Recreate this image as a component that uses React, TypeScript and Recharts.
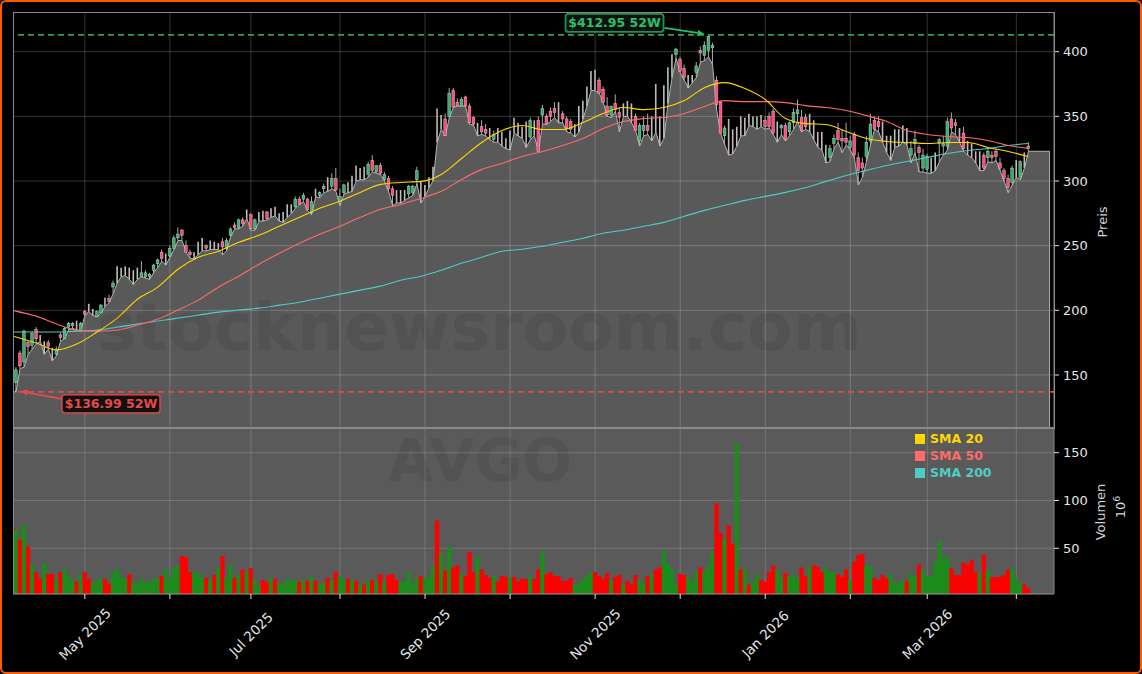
import React from "react";
import { ComposedChart, Area, Bar, Line, XAxis, YAxis, CartesianGrid, ReferenceLine, ReferenceDot } from "recharts";

type OHLC = [number, number, number, number];

// Daily candles by month: [open, high, low, close]
const candlesApr25: OHLC[] = [[144,156,137,154],[167,169,155,157],[160,185,156,184],[175,177,166,172],[173,184,170,182],[185,187,174,178],[179,181,176,178],[170,176,166,175],[175,177,170,172],[170,171,161,165],[166,172,165,170],[181,183,176,179],[178,187,178,186],[187,191,185,190],[188,191,186,190],[191,192,185,188],[184,191,184,190]];
const candlesMay25: OHLC[] = [[199,200,196,197],[203,205,199,201],[197,201,196,199],[195,200,195,199],[198,205,198,204],[208,210,203,206],[209,212,206,207],[218,223,213,221],[225,234,221,228],[228,233,226,230],[228,234,227,231],[231,233,224,226],[224,231,220,227],[224,233,224,230],[226,238,226,229],[226,231,225,229],[226,229,224,228],[231,236,229,235],[236,240,233,239],[245,247,238,240],[241,244,235,243]];
const candlesJun25: OHLC[] = [[242,250,241,248],[248,258,247,256],[256,264,254,259],[262,263,254,258],[250,254,245,245],[245,247,240,243],[242,245,240,244],[245,253,243,247],[248,256,246,249],[250,251,246,248],[248,254,247,250],[252,253,247,249],[248,252,247,250],[253,256,243,249],[248,256,246,254],[258,264,257,263],[266,268,263,264],[264,271,263,270],[270,272,265,267],[273,278,271,275],[274,275,262,263]];
const candlesJul25: OHLC[] = [[263,271,262,270],[270,276,269,275],[274,277,269,272],[276,277,270,271],[272,279,272,275],[277,280,273,275],[270,275,269,272],[271,276,268,272],[274,282,272,278],[277,282,275,279],[280,288,279,286],[286,288,282,282],[286,291,284,289],[286,287,277,278],[276,288,274,284],[291,294,288,289],[289,292,287,291],[294,298,291,296],[300,303,292,295],[296,306,294,302],[302,310,292,293],[284,294,281,288]];
const candlesAug25: OHLC[] = [[291,298,290,297],[295,299,291,292],[293,304,292,296],[308,312,300,303],[303,310,301,306],[310,311,301,305],[305,315,303,313],[316,320,307,308],[307,312,306,312],[312,314,305,306],[301,307,300,305],[302,304,292,294],[294,296,281,289],[291,293,283,288],[287,293,283,292],[288,293,285,291],[290,297,287,296],[291,297,289,296],[301,311,298,308],[296,300,283,295]];
const candlesSep25: OHLC[] = [[288,297,288,294],[296,303,295,300],[302,311,300,305],[354,356,330,334],[341,351,340,345],[348,352,335,335],[350,372,349,368],[370,372,357,357],[361,364,358,358],[358,365,358,363],[365,366,358,358],[358,360,344,345],[349,350,343,344],[338,345,335,340],[342,347,336,338],[340,344,335,337],[338,341,332,335],[332,339,330,336],[336,341,330,332],[337,338,327,330],[331,333,325,326]];
const candlesOct25: OHLC[] = [[326,339,324,332],[348,349,337,338],[342,345,335,336],[340,342,333,334],[344,346,326,330],[334,349,332,347],[345,347,335,342],[347,350,323,323],[351,359,344,356],[350,352,344,344],[354,357,346,350],[356,361,349,353],[353,361,345,350],[352,354,345,348],[348,350,338,341],[346,348,337,340],[336,344,334,340],[340,358,338,350],[350,362,348,358],[361,373,358,366],[372,385,370,378]];
const candlesNov25: OHLC[] = [[382,386,370,372],[378,380,368,368],[371,373,361,361],[358,365,350,351],[351,358,349,358],[360,367,354,355],[353,357,338,349],[352,360,350,355],[358,362,350,352],[358,360,345,350],[350,352,339,339],[331,345,327,343],[339,350,335,343],[343,352,336,339],[338,350,331,342],[356,375,338,343],[345,350,327,332],[348,374,333,370],[368,388,360,384],[385,398,380,393],[398,403,395,402]];
const candlesDec25: OHLC[] = [[394,396,384,385],[387,390,378,380],[376,382,372,379],[378,382,376,380],[384,392,380,389],[401,404,392,399],[397,408,393,405],[401,412.95,396,412],[403,407,390,405],[378,381,355,359],[361,362,337,337],[335,343,328,341],[345,348,320,322],[333,340,321,324],[330,342,327,338],[345,350,335,338],[340,349,335,345],[350,352,343,347],[346,350,342,348],[344,350,340,347],[349,351,342,344]];
const candlesJan26: OHLC[] = [[347,350,340,342],[350,353,341,342],[354,356,336,337],[335,346,330,344],[341,344,336,343],[343,345,331,332],[338,346,335,345],[345,356,340,353],[352,363,346,355],[349,355,338,339],[349,352,340,342],[340,352,338,347],[345,347,332,334],[336,338,326,328],[337,338,324,326],[316,328,314,320],[318,328,315,325],[329,336,325,333],[339,345,330,332],[333,340,322,331],[333,345,328,330]];
const candlesFeb26: OHLC[] = [[326,335,324,331],[336,338,318,320],[318,322,297,308],[314,318,303,310],[319,335,315,330],[331,352,328,344],[347,350,340,340],[346,350,338,342],[345,346,330,332],[330,335,322,325],[320,335,316,326],[327,340,326,333],[330,340,327,335],[332,343,330,337],[335,341,328,333],[320,331,314,325],[329,339,322,332],[326,328,307,322],[310,325,307,320]];
const candlesMar26: OHLC[] = [[309,321,306,319],[311,318,306,313],[315,322,308,317],[329,333,315,332],[327,335,320,329],[327,349,324,346],[348,353,338,341],[345,348,336,343],[340,341,330,332],[337,342,323,325],[328,331,320,324],[326,329,318,321],[320,323,314,316],[311,323,308,316],[320,322,308,310],[318,326,315,323],[320,323,314,318],[323,325,316,319],[314,318,308,310],[308,310,300,302],[302,305,291,295],[299,312,297,310]];
const candlesApr26: OHLC[] = [[306,316,303,311],[303,316,301,315],[318,322,310,316],[327,330,323,325]];

// Sessions whose candle reads as a pale stick with no coloured body
const paleSessions = [6,7,9,15,18,19,22,25,26,27,28,29,30,37,44,45,46,48,49,50,57,60,61,63,64,65,66,67,68,74,77,82,83,84,85,86,94,95,96,100,101,102,103,104,105,114,117,119,120,121,122,123,124,125,126,128,134,138,139,140,141,142,143,150,151,152,157,158,159,160,161,162,166,167,176,177,178,179,180,181,182,183,184,188,196,197,198,199,200,214,215,216,217,218,219,220,226,227,233,235,236,237,238,247,249];

// Volume in millions, same order
const volApr25 = [69,59,74,52,33,25,18,34,23,23,19,25,28,21,16,15,22];
const volMay25 = [25,18,14,16,19,18,13,25,28,19,19,23,15,12,18,14,15,18,19,21,28];
const volJun25 = [19,30,32,42,41,25,25,24,19,19,18,22,30,42,20,32,19,22,28,26,29];
const volJul25 = [17,10,17,15,19,18,13,13,18,16,17,15,17,16,20,16,13,13,19,17,25,21];
const volAug25 = [17,18,17,16,12,12,17,17,16,23,15,22,23,17,15,15,25,13,19,21];
const volSep25 = [20,19,32,79,44,27,52,30,32,23,21,46,25,41,28,22,19,21,15,21,20];
const volOct25 = [19,20,15,18,18,20,18,28,46,23,25,21,21,16,16,19,12,13,18,20,25];
const volNov25 = [25,21,18,24,17,20,22,13,16,12,22,18,13,21,22,28,30,48,34,28,13];
const volDec25 = [23,22,20,15,25,30,25,32,47,97,66,60,74,55,160,28,28,12,15,22,17];
const volJan26 = [15,25,32,27,20,24,21,22,19,30,21,31,32,31,25,30,25,25,23,20,28];
const volFeb26 = [17,36,43,44,32,31,19,17,22,19,23,14,14,17,16,23,21,33,28];
const volMar26 = [21,21,35,58,40,41,29,22,22,35,33,38,25,24,43,27,20,20,20,22,28,29];
const volApr26 = [19,13,12,8];

// Moving averages read every fifth session
const sma20Read = [179.3,174.7,169.3,173.9,183.2,194,208.6,217.9,231.8,241,245.7,252.6,258,265,271.9,278.9,284.3,291.2,297.4,298.9,299.7,305.1,317.4,329.8,339,342.9,339.8,339.8,345.2,352.2,356.8,355.2,356.8,362.2,372.2,376.1,371.5,363,348.3,344.4,343.7,338.3,332.9,330.6,329.8,329,329.8,329.8,325.9,322.8,319];
const sma50Read = [199.4,195.5,189.4,184.7,183.9,184.7,188.6,193.2,200.2,207.9,217.9,226.4,235.7,244.1,251.9,258.8,265,271.9,278.1,281.9,286.6,292,301.2,309,313.6,319,322.8,327.5,332.9,340.6,346,348.3,349.1,352.2,357.6,362.2,361.4,361.4,360.6,358.3,356.8,354.5,350.6,346,339,336,334.4,333.6,331.3,327.5,325.2];
const sma200Read = [183.2,183.2,183.2,183.9,184.7,187,189.4,191.7,194,196.3,198.6,200.2,201.7,204,206.3,209.4,212.5,215.6,218.7,223.3,226.4,231,236.4,241,245.7,247.2,249.5,252.6,255.7,259.6,261.9,265,268,272.7,277.3,281.2,285,288.1,291.2,295,299.7,304.3,308.2,312,315.1,318.2,321.3,323.6,325.2,327.5,329];

// Left edge of the panel, before the first candle
const edgeIndex = -0.7;
const edgeLow = 137;
const edgeVolume = 71;
const edgeSma = { sma20: 180, sma50: 200, sma200: 183.2 };
// Right of the last candle the filled area carries on flat
const tailIndexes = [251, 255.2];
const tailLow = 323;

const monthTicks = [17, 38, 58, 80, 101, 122, 143, 164, 185, 206, 225, 247];
const monthLabels = ["May 2025", "", "Jul 2025", "", "Sep 2025", "", "Nov 2025", "", "Jan 2026", "", "Mar 2026", ""];
const priceTicks = [150, 200, 250, 300, 350, 400];
const volumeTicks = [50, 100, 150];
const high52 = 412.95;
const low52 = 136.99;
const highIndex = 171;
const lowIndex = 0;
const legendItems = [
  { name: "SMA 20", color: "#ffd700" },
  { name: "SMA 50", color: "#ff6b6b" },
  { name: "SMA 200", color: "#4ecdc4" },
];

const candles: OHLC[] = [candlesApr25, candlesMay25, candlesJun25, candlesJul25, candlesAug25, candlesSep25, candlesOct25, candlesNov25, candlesDec25, candlesJan26, candlesFeb26, candlesMar26, candlesApr26].flat();
const volumes: number[] = [volApr25, volMay25, volJun25, volJul25, volAug25, volSep25, volOct25, volNov25, volDec25, volJan26, volFeb26, volMar26, volApr26].flat();
const paleSet = new Set(paleSessions);

const priceRows: any[] = [
  { idx: edgeIndex, low: edgeLow, ...edgeSma },
  ...candles.map(([open, high, low, close], i) => ({
    idx: i, open, high, low, close, pale: paleSet.has(i),
    ...(i % 5 === 0 ? { sma20: sma20Read[i / 5], sma50: sma50Read[i / 5], sma200: sma200Read[i / 5] } : {}),
  })),
  ...tailIndexes.map((idx) => ({ idx, low: tailLow })),
];
const volumeRows: any[] = [
  { idx: edgeIndex, volume: edgeVolume, up: false },
  ...volumes.map((volume, i) => ({ idx: i, volume, up: candles[i][3] >= candles[i][0] })),
];

const FONT = "'DejaVu Sans', sans-serif";
const XDOMAIN: [number, number] = [-0.74, 256.3];
const TICK = { fill: "#e4e4e4", fontSize: 13, fontFamily: FONT };
const GRID = "rgba(255,255,255,0.2)";

function CandleShape(props: any) {
  const { x, y, width, height, payload } = props;
  if (payload == null || payload.open == null) return null;
  const cx = x + width / 2;
  const top = Math.min(y, y + height);
  const h = Math.abs(height);
  const span = payload.high - payload.low || 1;
  const yOf = (v: number) => top + ((payload.high - v) / span) * h;
  const up = payload.close >= payload.open;
  if (payload.pale) {
    return <line x1={cx} x2={cx} y1={top} y2={top + h} stroke={up ? "#b4c4b8" : "#c8b4ba"} strokeWidth={1.6} />;
  }
  const bodyTop = yOf(Math.max(payload.open, payload.close));
  const bodyH = Math.max(1, yOf(Math.min(payload.open, payload.close)) - bodyTop);
  return (
    <g>
      <line x1={cx} x2={cx} y1={top} y2={top + h} stroke="#bdbdbd" strokeWidth={0.9} />
      <rect x={cx - 1.4} y={bodyTop} width={2.8} height={bodyH} fill={up ? "#35b06c" : "#ff4a78"} stroke="#f0f0f0" strokeOpacity={0.7} strokeWidth={0.5} />
    </g>
  );
}

function VolumeShape(props: any) {
  const { x, y, width, height, payload } = props;
  return <rect x={x + width / 2 - 2.15} y={y} width={4.3} height={height} fill={payload.up ? "#1c8c1c" : "#ff0000"} />;
}

function PriceFlag(props: any) {
  const { cx, cy, text, color, boxDx, boxDy, fromDx, fromDy, tipDx, tipDy } = props;
  if (cx == null) return null;
  const x1 = cx + fromDx, y1 = cy + fromDy, x2 = cx + tipDx, y2 = cy + tipDy;
  const a = Math.atan2(y2 - y1, x2 - x1);
  const bx = x2 - Math.cos(a) * 7, by = y2 - Math.sin(a) * 7;
  const nx = -Math.sin(a) * 3, ny = Math.cos(a) * 3;
  return (
    <g>
      <line x1={x1} y1={y1} x2={bx} y2={by} stroke={color} strokeWidth={1.7} />
      <polygon points={`${x2},${y2} ${bx + nx},${by + ny} ${bx - nx},${by - ny}`} fill={color} />
      <rect x={cx + boxDx} y={cy + boxDy} width={98} height={18} rx={3} fill="#111" stroke={color} strokeOpacity={0.75} strokeWidth={1.8} />
      <text x={cx + boxDx + 49} y={cy + boxDy + 13.5} textAnchor="middle" fill={color} fontSize={12.5} fontWeight="bold" fontFamily={FONT}>{text}</text>
    </g>
  );
}

function MonthTick(props: any) {
  const { x, y, index } = props;
  const label = monthLabels[index];
  if (!label) return null;
  const ty = y + 33;
  return (
    <text x={x} y={ty} transform={`rotate(-45 ${x} ${ty})`} textAnchor="middle" dominantBaseline="central" fill="#e4e4e4" fontSize={13.5} fontFamily={FONT}>{label}</text>
  );
}

function PriceChart() {
  return (
    <ComposedChart width={1142} height={428} data={priceRows} margin={{ top: 12, right: 0, bottom: 0, left: 13 }} style={{ position: "absolute", left: 0, top: 0 }}>
      <CartesianGrid stroke={GRID} strokeWidth={1} verticalValues={monthTicks} horizontalValues={priceTicks} />
      <XAxis dataKey="idx" type="number" domain={XDOMAIN} allowDataOverflow hide scale="linear" ticks={monthTicks} height={0} />
      <YAxis orientation="right" width={88} domain={[109, 430.7]} ticks={priceTicks} allowDataOverflow interval={0}
        tick={TICK} tickLine={{ stroke: "#e4e4e4" }} tickSize={5} tickMargin={4} axisLine={{ stroke: "#888" }} />
      <Area dataKey="low" type="linear" baseValue={109} fill="#ffffff" fillOpacity={0.35} stroke="#b4b4b4" strokeWidth={1} connectNulls isAnimationActive={false} dot={false} activeDot={false} />
      <ReferenceLine segment={[{ x: tailIndexes[1], y: tailLow }, { x: tailIndexes[1], y: 109 }]} stroke="#aaa" strokeWidth={1} />
      <ReferenceLine y={high52} stroke="#2e9e5f" strokeWidth={1.8} strokeDasharray="6 4" />
      <ReferenceLine y={low52} stroke="#d94c4c" strokeWidth={1.8} strokeDasharray="6 4" />
      <Bar dataKey={(r: any) => (r.open == null ? null : [r.low, r.high])} barSize={4} shape={CandleShape} isAnimationActive={false} />
      <Line dataKey="sma200" type="monotone" stroke="#4ecdc4" strokeWidth={1.1} dot={false} activeDot={false} connectNulls isAnimationActive={false} />
      <Line dataKey="sma50" type="monotone" stroke="#ff6b6b" strokeWidth={1.1} dot={false} activeDot={false} connectNulls isAnimationActive={false} />
      <Line dataKey="sma20" type="monotone" stroke="#ffd700" strokeWidth={1.1} dot={false} activeDot={false} connectNulls isAnimationActive={false} />
      <ReferenceDot x={highIndex} y={high52} r={0} ifOverflow="visible"
        shape={(p: any) => <PriceFlag {...p} text={`$${high52} 52W`} color="#25c26a" boxDx={-143} boxDy={-21} fromDx={-44} fromDy={-7} tipDx={-4} tipDy={-1} />} />
      <ReferenceDot x={lowIndex} y={low52} r={0} ifOverflow="visible"
        shape={(p: any) => <PriceFlag {...p} text={`$${low52} 52W`} color="#e64a4a" boxDx={46} boxDy={3} fromDx={46} fromDy={7} tipDx={4.5} tipDy={-0.5} />} />
    </ComposedChart>
  );
}

function VolumeChart() {
  return (
    <ComposedChart width={1142} height={246} data={volumeRows} margin={{ top: 0, right: 0, bottom: 0, left: 13 }} style={{ position: "absolute", left: 0, top: 428 }}>
      <CartesianGrid fill="#5a5a5a" stroke="rgba(255,255,255,0.16)" strokeWidth={1} verticalValues={monthTicks} horizontalValues={volumeTicks} />
      <XAxis dataKey="idx" type="number" domain={XDOMAIN} allowDataOverflow scale="linear" ticks={monthTicks} interval={0} height={80}
        tick={<MonthTick />} tickLine={{ stroke: "#e4e4e4" }} tickSize={5} axisLine={{ stroke: "#999" }} />
      <YAxis orientation="right" width={88} domain={[2.2, 175.8]} ticks={volumeTicks} allowDataOverflow interval={0}
        tick={TICK} tickLine={{ stroke: "#e4e4e4" }} tickSize={5} tickMargin={4} axisLine={{ stroke: "#888" }} />
      <Bar dataKey="volume" barSize={4} shape={VolumeShape} isAnimationActive={false} />
    </ComposedChart>
  );
}

function Overlay() {
  return (
    <>
      <div style={{ position: "absolute", left: 13, top: 12, width: 1040, height: 415, border: "1px solid #8a8a8a", pointerEvents: "none" }} />
      <div style={{ position: "absolute", left: 13, top: 427, width: 1041, height: 2, background: "#8a8a8a" }} />
      <div style={{ position: "absolute", left: 13, top: 429, width: 1, height: 165, background: "#8a8a8a" }} />
      <div style={{ position: "absolute", left: 97, top: 287, fontFamily: FONT, fontWeight: "bold", fontSize: 66.3, color: "rgba(0,0,0,0.08)", whiteSpace: "nowrap", lineHeight: "80px" }}>stocknewsroom.com</div>
      <div style={{ position: "absolute", left: 388, top: 426, fontFamily: FONT, fontWeight: "bold", fontSize: 58.5, color: "rgba(0,0,0,0.07)", whiteSpace: "nowrap", lineHeight: "70px" }}>AVGO</div>
      {legendItems.map((item, i) => (
        <div key={item.name} style={{ position: "absolute", left: 915, top: 431 + i * 17, height: 15, display: "flex", alignItems: "center", fontFamily: FONT, fontWeight: "bold", fontSize: 12.5, color: item.color }}>
          <span style={{ width: 10, height: 10, background: item.color, marginRight: 5, display: "inline-block" }} />
          {item.name}
        </div>
      ))}
      <svg width={1142} height={674} style={{ position: "absolute", left: 0, top: 0, pointerEvents: "none" }}>
        <text x={1102} y={222} transform="rotate(-90 1102 222)" textAnchor="middle" dominantBaseline="central" fill="#d4d4d4" fontSize={13} fontFamily={FONT}>Preis</text>
        <text x={1100} y={512} transform="rotate(-90 1100 512)" textAnchor="middle" dominantBaseline="central" fill="#d4d4d4" fontSize={13} fontFamily={FONT}>Volumen</text>
        <text x={1125} y={507} transform="rotate(-90 1125 507)" textAnchor="middle" fill="#d4d4d4" fontSize={13} fontFamily={FONT}>10<tspan dy={-5} fontSize={9.5}>6</tspan></text>
      </svg>
    </>
  );
}

export default function App() {
  return (
    <div style={{ position: "fixed", left: 0, top: 0, width: 1142, height: 674, background: "#000", overflow: "hidden" }}>
      <PriceChart />
      <VolumeChart />
      <Overlay />
      <div style={{ position: "absolute", left: 0, top: 0, width: 1142, height: 674, boxSizing: "border-box", border: "2px solid #ff5c00", borderRadius: 6, pointerEvents: "none" }} />
    </div>
  );
}
